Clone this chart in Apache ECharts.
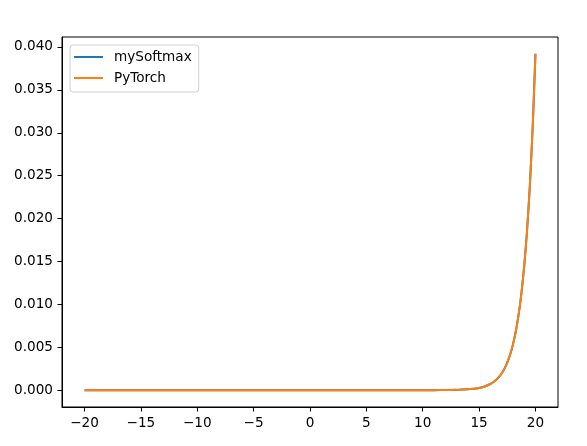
<!DOCTYPE html>
<html>
<head>
<meta charset="utf-8">
<script src="https://cdn.jsdelivr.net/npm/echarts@6/dist/echarts.min.js"></script>
<style>
html,body{margin:0;padding:0;background:#fff;}
#chart{width:587px;height:446px;}
</style>
</head>
<body>
<div id="chart"></div>
<script>
// x positions and estimated softmax values
const xValues = [-20, -15, -10, -5, 0, 5, 10, 11, 12, 13, 14, 14.5, 15, 15.5, 16, 16.25, 16.5, 16.75, 17, 17.25, 17.5, 17.75, 18, 18.25, 18.5, 18.75, 19, 19.25, 19.5, 19.75, 20];
const mySoftmaxValues = [0, 0, 0, 0, 0, 0, 0.0000018, 0.0000048, 0.0000131, 0.0000358, 0.0000972, 0.00016, 0.000264, 0.000436, 0.000718, 0.000921, 0.00118, 0.00152, 0.00195, 0.00251, 0.00322, 0.00413, 0.00531, 0.00681, 0.00875, 0.01123, 0.01442, 0.01852, 0.02378, 0.03053, 0.0392];
const pytorchValues = [0, 0, 0, 0, 0, 0, 0.0000018, 0.0000048, 0.0000131, 0.0000358, 0.0000972, 0.00016, 0.000264, 0.000436, 0.000718, 0.000921, 0.00118, 0.00152, 0.00195, 0.00251, 0.00322, 0.00413, 0.00531, 0.00681, 0.00875, 0.01123, 0.01442, 0.01852, 0.02378, 0.03053, 0.0392];
const xTicks = [-20, -15, -10, -5, 0, 5, 10, 15, 20];
const yTicks = [0, 0.005, 0.01, 0.015, 0.02, 0.025, 0.03, 0.035, 0.04];
const seriesNames = ['mySoftmax', 'PyTorch'];

const font = 'DejaVu Sans';
const fs = 13.6;
const chart = echarts.init(document.getElementById('chart'), null, {renderer: 'canvas'});
const toPairs = (xs, ys) => xs.map((x, i) => [x, ys[i]]);

chart.setOption({
  animation: false,
  backgroundColor: '#fff',
  grid: {left: 62, right: 29, top: 37, bottom: 39, show: true, borderColor: '#000', borderWidth: 1, backgroundColor: 'transparent'},
  legend: {
    orient: 'vertical', left: 70, top: 45,
    data: seriesNames,
    icon: 'rect', itemWidth: 29, itemHeight: 2, itemGap: 7,
    padding: [5, 7, 7, 4],
    borderColor: '#d0d0d0', borderWidth: 1, borderRadius: 3,
    backgroundColor: 'rgba(255,255,255,0.8)',
    textStyle: {fontFamily: font, fontSize: fs, color: '#000', padding: [0, 0, 0, 6]}
  },
  xAxis: {
    type: 'value', min: -22, max: 22,
    axisLine: {show: true, onZero: false, lineStyle: {color: '#000', width: 1}},
    axisTick: {show: true, length: 4.5, customValues: xTicks, lineStyle: {color: '#000'}},
    axisLabel: {customValues: xTicks, fontFamily: font, fontSize: fs, color: '#000', margin: 9,
      formatter: v => (v < 0 ? '\u2212' + Math.abs(v) : String(v))},
    splitLine: {show: false}
  },
  yAxis: {
    type: 'value', min: -0.00196, max: 0.04116,
    axisLine: {show: true, onZero: false, lineStyle: {color: '#000', width: 1}},
    axisTick: {show: true, length: 4.5, customValues: yTicks, lineStyle: {color: '#000'}},
    axisLabel: {customValues: yTicks, fontFamily: font, fontSize: fs, color: '#000', margin: 9,
      formatter: v => v.toFixed(3)},
    splitLine: {show: false}
  },
  series: [
    {name: seriesNames[0], type: 'line', data: toPairs(xValues, mySoftmaxValues), showSymbol: false, smooth: 0.2,
      lineStyle: {color: '#1f77b4', width: 2}, itemStyle: {color: '#1f77b4'}},
    {name: seriesNames[1], type: 'line', data: toPairs(xValues, pytorchValues), showSymbol: false, smooth: 0.2,
      lineStyle: {color: '#ff7f0e', width: 2}, itemStyle: {color: '#ff7f0e'}}
  ]
});
</script>
</body>
</html>
